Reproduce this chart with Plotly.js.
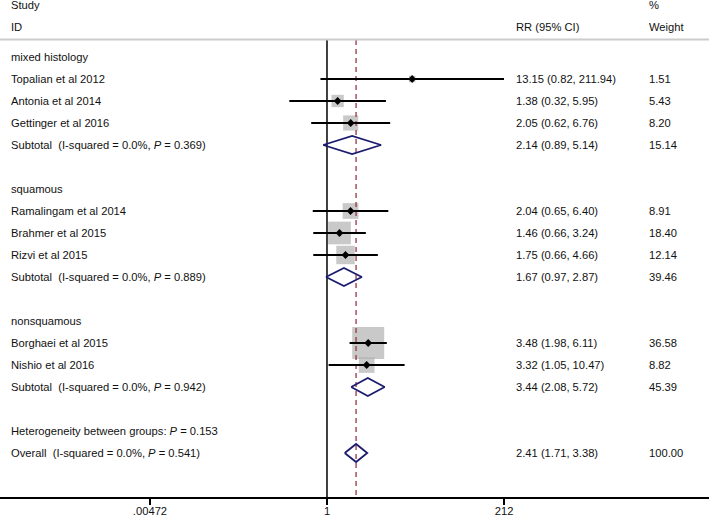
<!DOCTYPE html>
<html>
<head>
<meta charset="utf-8">
<script src="https://cdn.plot.ly/plotly-3.0.1.min.js"></script>
<style>body{margin:0;background:#fff;} #myDiv{width:709px;height:518px;}</style>
</head>
<body>
<div id="myDiv"></div>
<script>
// данные со снимка
let groupNames = ['mixed histology', 'squamous', 'nonsquamous'];
let studyNames = ['Topalian et al 2012', 'Antonia et al 2014', 'Gettinger et al 2016',
                  'Ramalingam et al 2014', 'Brahmer et al 2015', 'Rizvi et al 2015',
                  'Borghaei et al 2015', 'Nishio et al 2016'];
let studyGroup = [0, 0, 0, 1, 1, 1, 2, 2];
let studyRR = [13.15, 1.38, 2.05, 2.04, 1.46, 1.75, 3.48, 3.32];
let studyLow = [0.82, 0.32, 0.62, 0.65, 0.66, 0.66, 1.98, 1.05];
let studyHigh = [211.94, 5.95, 6.76, 6.40, 3.24, 4.66, 6.11, 10.47];
let studyWeight = [1.51, 5.43, 8.20, 8.91, 18.40, 12.14, 36.58, 8.82];

let subRR = [2.14, 1.67, 3.44];
let subLow = [0.89, 0.97, 2.08];
let subHigh = [5.14, 2.87, 5.72];
let subWeight = [15.14, 39.46, 45.39];
let subI2 = [0.0, 0.0, 0.0];
let subP = [0.369, 0.889, 0.942];

let overallRR = 2.41, overallLow = 1.71, overallHigh = 3.38, overallWeight = 100.00;
let overallI2 = 0.0, overallP = 0.541, hetP = 0.153;

let tickVals = [0.00472, 1, 212];
let tickText = ['.00472', '1', '212'];

// раскладка строк
let colLeft = 9 / 709, colRR = 514 / 709, colW = 647 / 709;
let txtFont = {family: 'Liberation Sans, Arial, sans-serif', size: 11.2, color: '#111'};
let ann = [];
function addText(x, y, text) {
    ann.push({xref: 'paper', yref: 'y', x: x, y: y, text: text, showarrow: false,
              xanchor: 'left', yanchor: 'middle', font: txtFont});
}
function rrText(r, l, h) { return r.toFixed(2) + ' (' + l.toFixed(2) + ', ' + h.toFixed(2) + ')'; }
function hetText(i2, p) {
    return '(I-squared = ' + i2.toFixed(1) + '%, <i>P</i> = ' + p.toFixed(3) + ')';
}

addText(colLeft, -2.36, 'Study');
addText(colLeft, -1.36, 'ID');
addText(colRR, -1.36, 'RR (95% CI)');
addText(colW, -2.36, '%');
addText(colW, -1.36, 'Weight');

let boxX = [], boxY = [], boxS = [];
let ciX = [], ciY = [];
let dmX = [], dmY = [];
let h = 0.41;
function diamond(l, r, hi, y) {
    dmX.push(l, r, hi, r, l, null);
    dmY.push(y, y - h, y, y + h, y, null);
}

let row = 0;
for (let g = 0; g < groupNames.length; g++) {
    addText(colLeft, row, groupNames[g]);
    row++;
    for (let i = 0; i < studyNames.length; i++) {
        if (studyGroup[i] != g) continue;
        addText(colLeft, row, studyNames[i]);
        addText(colRR, row, rrText(studyRR[i], studyLow[i], studyHigh[i]));
        addText(colW, row, studyWeight[i].toFixed(2));
        boxX.push(studyRR[i]); boxY.push(row); boxS.push(5.29 * Math.sqrt(studyWeight[i]));
        ciX.push(studyLow[i], studyHigh[i], null); ciY.push(row, row, null);
        row++;
    }
    addText(colLeft, row, 'Subtotal\u00a0\u00a0' + hetText(subI2[g], subP[g]));
    addText(colRR, row, rrText(subRR[g], subLow[g], subHigh[g]));
    addText(colW, row, subWeight[g].toFixed(2));
    diamond(subLow[g], subRR[g], subHigh[g], row);
    row += 2;
}
addText(colLeft, row, 'Heterogeneity between groups: <i>P</i> = ' + hetP.toFixed(3));
row++;
addText(colLeft, row, 'Overall\u00a0\u00a0' + hetText(overallI2, overallP));
addText(colRR, row, rrText(overallRR, overallLow, overallHigh));
addText(colW, row, overallWeight.toFixed(2));
diamond(overallLow, overallRR, overallHigh, row);

let yTop = -0.77, yBottom = 20;

let traces = [
    {type: 'scatter', mode: 'lines', x: [1, 1], y: [yTop, yBottom],
     line: {color: '#000', width: 1.5}, hoverinfo: 'skip'},
    {type: 'scatter', mode: 'markers', x: boxX, y: boxY,
     marker: {symbol: 'square', size: boxS, color: '#b2b2b2', line: {width: 0}}},
    {type: 'scatter', mode: 'lines', x: [overallRR, overallRR], y: [yTop, yBottom],
     line: {color: '#9a3446', width: 1.3, dash: '5px,4px'}, hoverinfo: 'skip'},
    {type: 'scatter', mode: 'lines', x: ciX, y: ciY, connectgaps: false,
     line: {color: '#000', width: 2}},
    {type: 'scatter', mode: 'markers', x: studyRR, y: boxY,
     marker: {symbol: 'diamond', size: 6, color: '#000'}},
    {type: 'scatter', mode: 'lines', x: dmX, y: dmY, fill: 'toself', fillcolor: 'rgba(255,255,255,0)',
     connectgaps: false, line: {color: '#1c1c6e', width: 1.8}}
];

let layout = {
    width: 709, height: 518,
    margin: {l: 0, r: 0, t: 0, b: 21},
    showlegend: false,
    paper_bgcolor: '#fff', plot_bgcolor: '#fff',
    xaxis: {
        type: 'log', range: [-4.297, 5.02],
        tickvals: tickVals, ticktext: tickText,
        ticks: 'outside', ticklen: 6, tickwidth: 1.5, tickcolor: '#000',
        ticklabelstandoff: -3,
        showline: true, linecolor: '#000', linewidth: 1.5,
        showgrid: false, zeroline: false,
        tickfont: txtFont, fixedrange: true
    },
    yaxis: {range: [yBottom, -2.59], visible: false, showgrid: false, zeroline: false, fixedrange: true},
    shapes: [{type: 'line', xref: 'paper', yref: 'y', x0: 0, x1: 1, y0: -0.8, y1: -0.8,
              line: {color: '#cccccc', width: 2}}],
    annotations: ann
};

Plotly.newPlot('myDiv', traces, layout, {staticPlot: true});
</script>
</body>
</html>
